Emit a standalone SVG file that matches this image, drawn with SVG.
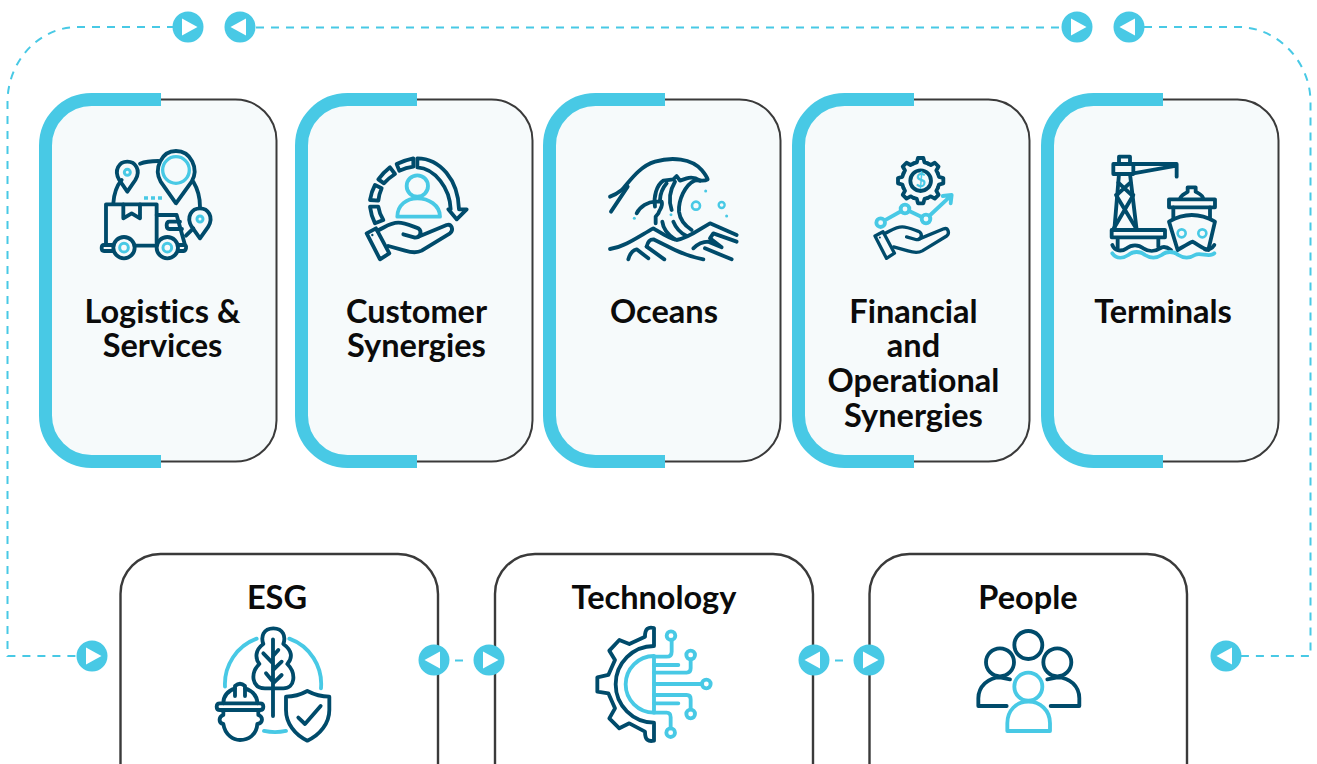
<svg xmlns="http://www.w3.org/2000/svg" width="1317" height="764" viewBox="0 0 1317 764">
<style>
.lbl{font-family:"Lato","Liberation Sans",sans-serif;font-weight:700;font-size:32.5px;fill:#0b0b0b;text-anchor:middle;font-variant-ligatures:none}
.dash{fill:none;stroke:#48c9e5;stroke-width:2;stroke-dasharray:8 7}
.box{fill:#fff;stroke:#3a3a3a;stroke-width:2.400}
.btn{fill:#48c9e5}
.tri{fill:#fff}
.d{fill:none;stroke:#004b6b;stroke-width:11.500;stroke-linecap:round;stroke-linejoin:round}
.b{fill:none;stroke:#48c9e5;stroke-width:11.500;stroke-linecap:round;stroke-linejoin:round}
.df{fill:#f6fafb}
.w{fill:#fff}
</style>
<defs>
<g id="cardshape">
<path d="M0,41 A41,41 0 0 1 41,0 H190 A41,41 0 0 1 231,41 V321 A41,41 0 0 1 190,362 H41 A41,41 0 0 1 0,321 Z" fill="#f6fafb" stroke="#3a3a3a" stroke-width="2"/>
<path d="M115.500,0 H46 A46,46 0 0 0 0,46 V316 A46,46 0 0 0 46,362 H115.500" fill="none" stroke="#48c9e5" stroke-width="13"/>
</g>
<g id="right"><circle class="btn" r="15.500"/><path class="tri" d="M-6,-8.500 L9.500,0 L-6,8.500 Z"/></g>
<g id="left"><circle class="btn" r="15.500"/><path class="tri" d="M6,-8.500 L-9.500,0 L6,8.500 Z"/></g>
<g id="hand">
<path class="d" d="M80,280 L108,265 L148,340 L120,358 Z"/>
<path class="d" d="M112,272 C135,262 150,248 175,248 C195,248 215,258 235,265 C248,275 240,293 225,293 L190,283"/>
<path class="d" d="M235,290 L320,255 C335,250 342,270 330,280 L245,332 C230,340 215,338 195,332 L145,318"/>
<circle cx="97" cy="285" r="3.500" fill="#004b6b"/>
</g>
<path id="tooth" class="d" d="M-21.400,-51.700 L-11.600,-54.800 L-8,-68 H8 L11.600,-54.800 L21.400,-51.700"/>
</defs>

<g id="connectors">
<path class="dash" d="M175,27 H78 C38,27 7.500,62 7.500,102 V656 H80"/>
<path class="dash" d="M256,27.500 H1064"/>
<path class="dash" d="M1144,27 H1238 C1278,27 1310.500,62 1310.500,102 V656 H1240"/>
<path class="dash" d="M455,660.500 H468"/>
<path class="dash" d="M835,660.500 H848"/>
<use href="#right" x="188" y="27"/>
<use href="#left" x="240" y="27"/>
<use href="#right" x="1077" y="27"/>
<use href="#left" x="1129" y="27"/>
<use href="#right" x="92" y="656"/>
<use href="#left" x="1226" y="656"/>
</g>

<g id="node-logistics">
<use href="#cardshape" x="45.500" y="99.500"/>
<text class="lbl" x="162.500" y="323">Logistics &amp;</text>
<text class="lbl" x="162.500" y="357">Services</text>
<g transform="translate(30,85) scale(.3333)">
<path class="d" d="M250,355 C252,325 262,300 275,285"/>
<path class="d" d="M330,236 C345,230 365,228 385,228"/>
<path class="d" d="M490,290 C502,310 510,335 510,365"/>
<path class="d" d="M438,355 L392,290 C370,250 395,198 438,198 C482,198 508,250 485,290 Z"/>
<circle cx="438" cy="255" r="40" fill="none" stroke="#48c9e5" stroke-width="10"/>
<path class="d" d="M292,320 L268,285 C250,255 268,230 292,230 C316,230 334,255 316,285 Z"/>
<circle cx="292" cy="262" r="9" fill="none" stroke="#48c9e5" stroke-width="9"/>
<path class="d" d="M510,460 L485,425 C467,395 486,370 510,370 C534,370 552,395 535,425 Z"/>
<circle cx="510" cy="402" r="9" fill="none" stroke="#48c9e5" stroke-width="9"/>
<path d="M342,339 H396" fill="none" stroke="#48c9e5" stroke-width="11" stroke-dasharray="12 9"/>
<path class="d" d="M228,475 V358 H380 V475"/>
<path class="d" d="M280,358 V400 L305,385 L330,400 V358"/>
<path class="d" d="M380,390 H440 L465,480"/>
<path class="d" d="M450,410 H418 Q410,410 410,421 Q410,432 418,432 H456"/>
<path class="d" d="M468,452 L490,430"/>
<path class="d" d="M245,480 H222 Q215,480 215,489 Q215,498 222,498 H250 M315,482 H380 M445,480 H462 Q470,480 468,490 Q466,499 458,498 H445"/>
<circle cx="282" cy="488" r="32" class="d df"/>
<circle cx="412" cy="488" r="32" class="d df"/>
<circle cx="282" cy="488" r="13" fill="none" stroke="#48c9e5" stroke-width="9"/>
<circle cx="412" cy="488" r="13" fill="none" stroke="#48c9e5" stroke-width="9"/>
</g>
</g>

<g id="node-customer">
<use href="#cardshape" x="301.500" y="99.500"/>
<text class="lbl" x="416.500" y="323">Customer</text>
<text class="lbl" x="416.500" y="357">Synergies</text>
<g transform="translate(360,150) scale(.3333)">
<path class="d" d="M172,25 C240,25 295,90 297,178 H320 L290,208 L265,178 H272 C270,115 225,55 172,52 Z"/>
<path class="d" d="M110,42 Q135,30 160,25 V50 Q138,53 118,62 Z"/>
<path class="d" d="M55,88 Q70,68 90,52 L105,72 Q85,85 72,100 Z"/>
<path class="d" d="M30,150 Q34,125 45,105 L65,115 Q57,133 55,152 Z"/>
<path class="d" d="M30,170 H55 Q58,190 70,210 L45,220 Q33,195 30,170 Z"/>
<circle cx="172" cy="108" r="32" class="b"/>
<path class="b" d="M112,200 C112,165 140,145 172,145 C205,145 240,165 240,200 Z"/>
</g>
<g transform="translate(340,140) scale(.3333)"><use href="#hand"/></g>
</g>

<g id="node-oceans">
<use href="#cardshape" x="549.500" y="99.500"/>
<text class="lbl" x="664" y="323">Oceans</text>
<g transform="translate(605,150) scale(.3333)">
<path class="d" d="M15,140 C30,135 40,128 50,120 C70,100 100,50 150,35 C200,20 260,25 290,60 C300,72 306,82 308,88 C295,97 280,88 268,92 C240,105 220,150 222,185 C225,210 245,230 260,240"/>
<path class="d" d="M18,185 L68,110"/>
<path class="d" d="M150,170 C145,140 155,105 175,92 L205,88 L215,78 L225,92 L245,85 C260,80 275,85 285,92"/>
<path class="d" d="M185,100 C172,115 166,130 165,150"/>
<path class="d" d="M210,95 C195,120 190,150 200,180"/>
<path class="d" d="M172,215 C175,240 190,255 210,268"/>
<path class="d" d="M205,215 C215,240 232,252 245,258"/>
<path class="d" d="M95,190 C105,170 130,155 150,155 L170,155 C175,170 165,175 160,190 L152,200 V220"/>
<path class="d" d="M15,297 C60,290 100,260 145,235 C170,250 190,265 215,270 C250,265 280,240 315,220 L395,255"/>
<path class="d" d="M70,328 C75,310 85,300 95,298 L130,325"/>
<path class="d" d="M125,290 C128,275 135,268 145,268 L210,300 C235,312 265,322 295,328"/>
<path class="d" d="M125,290 L178,328"/>
<path class="d" d="M265,295 C280,280 300,275 310,275 L350,292 L315,265 L325,250 L395,275"/>
<path class="d" d="M300,295 L380,328"/>
<circle cx="273" cy="167" r="12" fill="none" stroke="#48c9e5" stroke-width="8"/>
<circle cx="350" cy="165" r="9" fill="none" stroke="#48c9e5" stroke-width="7"/>
<g fill="#48c9e5"><circle cx="302" cy="123" r="4.500"/><circle cx="365" cy="198" r="4.500"/><circle cx="88" cy="205" r="4.500"/><circle cx="198" cy="194" r="4.500"/></g>
</g>
</g>

<g id="node-financial">
<use href="#cardshape" x="798.500" y="99.500"/>
<text class="lbl" x="913.500" y="323">Financial</text>
<text class="lbl" x="913.500" y="357">and</text>
<text class="lbl" x="913.500" y="392">Operational</text>
<text class="lbl" x="913.500" y="427">Synergies</text>
<g transform="translate(850,140) scale(.3333)">
<g transform="translate(212,122)">
<use href="#tooth"/><use href="#tooth" transform="rotate(45)"/><use href="#tooth" transform="rotate(90)"/><use href="#tooth" transform="rotate(135)"/><use href="#tooth" transform="rotate(180)"/><use href="#tooth" transform="rotate(225)"/><use href="#tooth" transform="rotate(270)"/><use href="#tooth" transform="rotate(315)"/>
<circle r="31" class="d"/>
</g>
<text x="212" y="142" font-family="Lato,'Liberation Sans',sans-serif" font-weight="700" font-size="54" fill="#48c9e5" text-anchor="middle">$</text>
<path class="b" d="M92,248 L165,207 L228,237 L303,167 M278,168 L305,165 L302,190"/>
<circle cx="92" cy="248" r="13" class="b df"/>
<circle cx="165" cy="207" r="13" class="b df"/>
<circle cx="228" cy="237" r="13" class="b df"/>
<use href="#hand" transform="translate(6.200,47.200) scale(.86)"/>
</g>
</g>

<g id="node-terminals">
<use href="#cardshape" x="1047.500" y="99.500"/>
<text class="lbl" x="1163" y="323">Terminals</text>
<g transform="translate(1105,150) scale(.3333)">
<path class="d" d="M42,42 V20 H75 V42"/>
<path class="d" d="M25,42 H85 V72 H25 Z M85,42 H215 V80 M85,70 L215,47"/>
<path class="d" d="M42,72 L28,240 M75,72 L95,240"/>
<path class="d" d="M40,98 L80,135 M76,98 L35,135 M33,135 L95,238 M85,135 L25,238"/>
<path class="d" d="M20,240 H180 V262 H20 Z M38,262 V295 M160,262 V290"/>
<path class="d" d="M22,285 C30,305 50,305 65,295 C80,283 100,283 115,295 C130,305 150,305 165,295 C175,288 185,290 198,300 M300,298 C310,300 322,295 328,285"/>
<path class="b" d="M22,310 C35,328 55,325 70,315 C85,303 105,303 120,315 C135,325 155,325 170,315 C185,303 205,303 220,315 C235,325 255,325 270,315 C285,305 315,325 328,310"/>
<path class="d" d="M192,148 H330 V172 H192 Z M225,148 C225,135 245,130 248,125 V112 H272 V125 C280,130 295,135 295,148"/>
<path d="M208,160 H320" fill="none" stroke="#f6fafb" stroke-width="7" stroke-dasharray="8 10"/>
<path class="d" d="M205,172 V205 M315,172 V205"/>
<path class="d" d="M192,215 Q260,175 330,215 L310,300 C290,295 275,280 262,275 C250,280 235,290 218,300 Z"/>
<circle cx="230" cy="250" r="12" fill="none" stroke="#48c9e5" stroke-width="8"/>
<circle cx="292" cy="250" r="12" fill="none" stroke="#48c9e5" stroke-width="8"/>
</g>
</g>

<g id="node-esg">
<path class="box" d="M120.500,764 V594 A40,40 0 0 1 160.500,554 H398 A40,40 0 0 1 438,594 V764"/>
<text class="lbl" x="277" y="609">ESG</text>
<use href="#left" x="434" y="660"/>
<g transform="translate(200,620) scale(.3333)">
<path class="b" d="M75,200 A145,145 0 0 1 170,56 M268,56 A145,145 0 0 1 363,205 M192,333 Q225,340 258,333" stroke-linecap="butt"/>
<path class="d" d="M220,25 C190,25 182,50 190,72 C165,90 165,115 178,132 C150,160 155,205 195,205 H250 C285,205 290,160 262,132 C280,112 275,90 250,72 C258,50 250,25 220,25 Z"/>
<path class="d" d="M219,58 V288 M190,100 L219,130 M235,90 L219,108 M245,125 L219,150 M198,160 L219,185 M245,165 L219,190"/>
<path class="d" d="M322,213 C300,225 280,230 258,230 V270 C258,310 285,345 322,362 C360,345 388,310 388,270 V230 C365,230 345,225 322,213 Z"/>
<path class="d" d="M295,293 L315,312 L362,258"/>
<path class="d" d="M70,250 C70,225 85,212 105,205 V198 Q120,185 135,198 V205 C155,212 172,225 172,250"/>
<path class="d" d="M105,205 V228 M135,205 V228"/>
<path class="d" d="M60,250 H180 Q190,250 190,260 Q190,270 180,270 H60 Q50,270 50,260 Q50,250 60,250 Z"/>
<path class="d" d="M70,270 V285 C55,290 55,310 70,312 C75,345 100,360 120,360 C145,360 170,345 172,312 C190,310 190,290 175,285 V270"/>
</g>
</g>

<g id="node-technology">
<path class="box" d="M495,764 V594 A40,40 0 0 1 535,554 H773 A40,40 0 0 1 813,594 V764"/>
<text class="lbl" x="654" y="609">Technology</text>
<use href="#right" x="489" y="660"/>
<use href="#left" x="814" y="660"/>
<g transform="translate(580,620) scale(.3333)">
<path class="d" d="M222,78 V24 C205,20 195,25 195,50 L148,72 L118,60 L88,92 L105,120 L85,165 L52,172 V215 L85,220 L105,265 L88,295 L118,325 L148,310 L195,335 C195,360 205,366 222,362 V308 A115,115 0 0 1 222,78 Z"/>
<path class="b" d="M222,108 A85,85 0 0 0 222,278 Z"/>
<path class="b" d="M222,110 H260 Q275,110 275,95 V60 M222,135 H295 M222,158 H320 Q332,158 332,145 V118 M222,192 H365 M222,225 H320 Q332,225 332,238 V268 M222,250 H295 M222,278 H260 Q272,278 272,292 V325"/>
<circle cx="273" cy="47" r="13" class="b"/>
<circle cx="332" cy="105" r="13" class="b"/>
<circle cx="379" cy="192" r="13" class="b"/>
<circle cx="332" cy="282" r="13" class="b"/>
<circle cx="272" cy="338" r="13" class="b"/>
</g>
</g>

<g id="node-people">
<path class="box" d="M869.500,764 V594 A40,40 0 0 1 909.500,554 H1147 A40,40 0 0 1 1187,594 V764"/>
<text class="lbl" x="1028" y="609">People</text>
<use href="#right" x="869" y="660"/>
<g transform="translate(960,620) scale(.3333)">
<circle cx="205" cy="75" r="42" class="d"/>
<circle cx="120" cy="127" r="42" class="d"/>
<circle cx="292" cy="127" r="42" class="d"/>
<path class="d" d="M140,258 H55 V235 C55,200 85,172 120,172 L150,178"/>
<path class="d" d="M272,258 H358 V235 C358,200 330,172 292,172 L262,178"/>
<circle cx="205" cy="200" r="42" class="b"/>
<path class="b" d="M142,333 V310 C142,270 170,245 205,245 C240,245 270,270 270,310 V333 Z"/>
</g>
</g>
</svg>
